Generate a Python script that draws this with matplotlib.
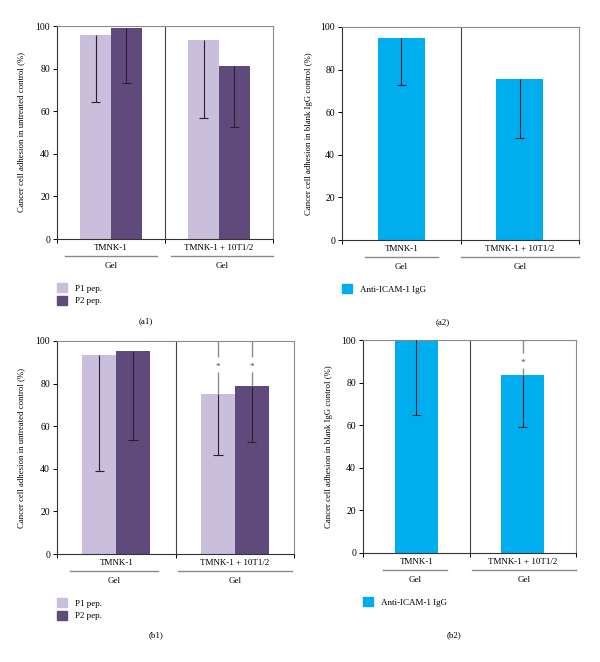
import matplotlib
matplotlib.use('Agg')
from matplotlib import pyplot
from matplotlib.patches import Patch

pyplot.rcParams['font.family'] = ['Liberation Serif', 'DejaVu Serif']
pyplot.rcParams['font.size'] = 6.3

groups = ['TMNK-1', 'TMNK-1 + 10T1/2']
group_sub = 'Gel'
ylabel_untreated = 'Cancer cell adhesion in untreated control (%)'
ylabel_igg = 'Cancer cell adhesion in blank IgG control (%)'

# (a1) peptides
a1_p1 = [95.8, 93.4]
a1_p1_low = [64.2, 56.9]
a1_p2 = [98.9, 81.4]
a1_p2_low = [73.4, 52.5]
# (a2) antibody
a2_ab = [94.8, 75.8]
a2_ab_low = [73.0, 48.1]
# (b1) peptides
b1_p1 = [93.6, 75.3]
b1_p1_low = [39.2, 46.7]
b1_p2 = [95.5, 78.9]
b1_p2_low = [53.3, 52.7]
b1_star = [False, True]
# (b2) antibody
b2_ab = [100.0, 83.7]
b2_ab_low = [64.6, 59.2]
b2_star = [False, True]

C_P1 = '#c9bedb'
C_P2 = '#5f4a7b'
C_AB = '#00aeef'
C_ERR = '#2a1f35'
C_GRAY = '#8a8a8a'

W, H = 600, 662
fig = pyplot.figure(figsize=(W / 100, H / 100), dpi=100)


def px_axes(left, right, top, bottom):
    return fig.add_axes([left / W, 1 - bottom / H, (right - left) / W, (bottom - top) / H])


def lower_err(ax, x, vals, lows, cap=0.04):
    for xi, v, lo in zip(x, vals, lows):
        ax.vlines(xi, lo, v, color=C_ERR, lw=0.8, zorder=4)
        ax.hlines(lo, xi - cap, xi + cap, color=C_ERR, lw=0.8, zorder=4)


def star(ax, x, val, ys, gap=3.5):
    ax.vlines(x, val, ys - gap, color=C_GRAY, lw=1.0, zorder=4)
    ax.vlines(x, ys + gap, 100, color=C_GRAY, lw=1.0, zorder=4)
    ax.text(x, ys - 1.2, '*', ha='center', va='center', fontsize=6.5, color='#444444')


def frame(ax, ylabel, ylab_x, under1, under2):
    ax.set_xlim(0, 2)
    ax.set_ylim(0, 100)
    ax.set_yticks(range(0, 101, 20))
    ax.set_xticks([0, 1, 2])
    ax.set_xticklabels([])
    ax.tick_params(axis='both', length=3, width=0.7, labelsize=7, pad=2)
    for s in ['top', 'right']:
        ax.spines[s].set_color(C_GRAY)
        ax.spines[s].set_linewidth(0.8)
    for s in ['left', 'bottom']:
        ax.spines[s].set_color('#333333')
        ax.spines[s].set_linewidth(0.8)
    ax.axvline(1, color='#444444', lw=0.8, zorder=1)
    ax.set_ylabel(ylabel, fontsize=6.3)
    ax.yaxis.set_label_coords(ylab_x, 0.5)
    tr = ax.get_xaxis_transform()
    for (x0, x1), g, c in zip([under1, under2], groups, [0.5, 1.5]):
        ax.text(c, -0.04, g, transform=tr, ha='center', va='center', fontsize=6.5)
        ax.plot([x0, x1], [-0.08, -0.08], transform=tr, color=C_GRAY, lw=1.0, clip_on=False)
        ax.text((x0 + x1) / 2, -0.125, group_sub, transform=tr, ha='center', va='center', fontsize=6.5)


def legend(ax, handles, y):
    ax.legend(handles=handles, loc='upper left', bbox_to_anchor=(0, y), frameon=False,
              borderpad=0, borderaxespad=0, handlelength=1.15, handleheight=1.15,
              handletextpad=0.8, labelspacing=0.35, fontsize=6.5)


pep_handles = [Patch(color=C_P1, label='P1 pep.'), Patch(color=C_P2, label='P2 pep.')]
ab_handles = [Patch(color=C_AB, label='Anti-ICAM-1 IgG')]
centers = [0.5, 1.5]
off = 0.143
bw = 0.287

# (a1)
ax = px_axes(57, 273, 26, 239)
x1 = [c - off for c in centers]
x2 = [c + off for c in centers]
ax.bar(x1, a1_p1, bw, color=C_P1, zorder=2)
ax.bar(x2, a1_p2, bw, color=C_P2, zorder=2)
lower_err(ax, x1, a1_p1, a1_p1_low)
lower_err(ax, x2, a1_p2, a1_p2_low)
frame(ax, ylabel_untreated, -0.148, (0.07, 0.93), (1.06, 2.0))
legend(ax, pep_handles, -0.207)

# (a2)
ax = px_axes(342, 579, 27, 240)
ax.bar(centers, a2_ab, 0.397, color=C_AB, zorder=2)
lower_err(ax, centers, a2_ab, a2_ab_low)
frame(ax, ylabel_igg, -0.122, (0.19, 0.81), (1.0, 2.0))
legend(ax, ab_handles, -0.207)

# (b1)
ax = px_axes(57, 294, 341, 554)
ax.bar(x1, b1_p1, bw, color=C_P1, zorder=2)
ax.bar(x2, b1_p2, bw, color=C_P2, zorder=2)
lower_err(ax, x1, b1_p1, b1_p1_low)
lower_err(ax, x2, b1_p2, b1_p2_low)
for xs, vals in [(x1, b1_p1), (x2, b1_p2)]:
    for xi, v, s in zip(xs, vals, b1_star):
        if s:
            star(ax, xi, v, 89)
frame(ax, ylabel_untreated, -0.135, (0.11, 0.85), (1.02, 1.98))
legend(ax, pep_handles, -0.207)

# (b2)
ax = px_axes(363, 576, 340, 553)
ax.bar(centers, b2_ab, 0.405, color=C_AB, zorder=2)
lower_err(ax, centers, b2_ab, b2_ab_low)
for xi, v, s in zip(centers, b2_ab, b2_star):
    if s:
        star(ax, xi, v, 90.5)
frame(ax, ylabel_igg, -0.141, (0.19, 0.79), (1.02, 2.0))
legend(ax, ab_handles, -0.207)

for lbl, x, y in [('(a1)', 146, 321), ('(a2)', 443, 322), ('(b1)', 156, 635), ('(b2)', 454, 635)]:
    fig.text(x / W, 1 - y / H, lbl, ha='center', va='center', fontsize=6.5)

fig.savefig('out.png', dpi=100)
pyplot.close(fig)
